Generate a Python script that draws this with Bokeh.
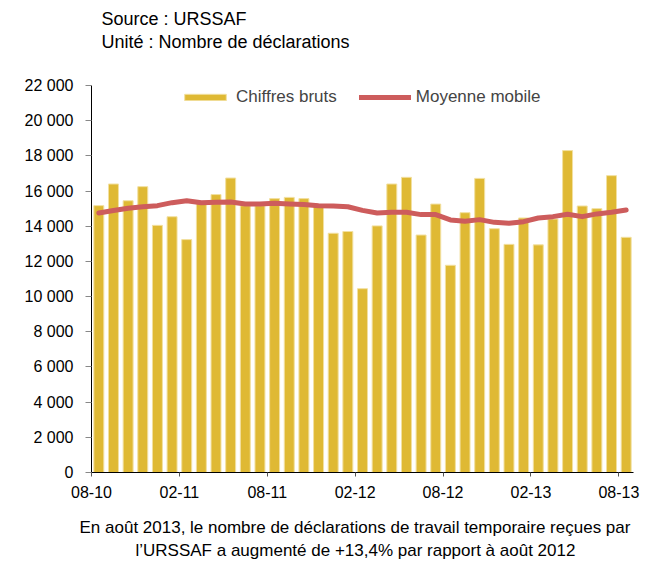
from bokeh.plotting import figure
from bokeh.models import Range1d, FixedTicker, Title, Legend, LegendItem
from bokeh.embed import file_html
from bokeh.resources import INLINE

# Monthly data, 08-10 .. 08-13
months = ["08-10", "09-10", "10-10", "11-10", "12-10", "01-11", "02-11", "03-11", "04-11",
          "05-11", "06-11", "07-11", "08-11", "09-11", "10-11", "11-11", "12-11", "01-12",
          "02-12", "03-12", "04-12", "05-12", "06-12", "07-12", "08-12", "09-12", "10-12",
          "11-12", "12-12", "01-13", "02-13", "03-13", "04-13", "05-13", "06-13", "07-13",
          "08-13"]
chiffres_bruts = [15170, 16400, 15450, 16250, 14050, 14540, 13240, 15360, 15800,
                  16740, 15170, 15170, 15570, 15640, 15570, 15170, 13600, 13700,
                  10450, 14020, 16400, 16780, 13500, 15260, 11780, 14770, 16720,
                  13860, 12970, 14470, 12940, 14410, 18300, 15150, 15000, 16875,
                  13370]
moyenne_mobile = [14750, 14890, 15020, 15110, 15170, 15340, 15450, 15340, 15360,
                  15380, 15260, 15260, 15300, 15260, 15230, 15170, 15150, 15110,
                  14900, 14750, 14790, 14790, 14660, 14660, 14360, 14280, 14375,
                  14220, 14170, 14260, 14470, 14545, 14680, 14545, 14700, 14790,
                  14920]
y_ticks = [0, 2000, 4000, 6000, 8000, 10000, 12000, 14000, 16000, 18000, 20000, 22000]
y_tick_labels = ["0", "2 000", "4 000", "6 000", "8 000", "10 000", "12 000", "14 000",
                 "16 000", "18 000", "20 000", "22 000"]
x_tick_labels = ["08-10", "02-11", "08-11", "02-12", "08-12", "02-13", "08-13"]
header_lines = ["Source : URSSAF", "Unité : Nombre de déclarations"]
caption_lines = ["En août 2013, le nombre de déclarations de travail temporaire reçues par",
                 "l’URSSAF a augmenté de +13,4% par rapport à août 2012"]

FONT = "Liberation Sans"

centers = [i + 0.5 for i in range(len(months))]
x_tick_pos = [months.index(m) for m in x_tick_labels]

p = figure(frame_width=542, frame_height=387, output_backend="svg", toolbar_location=None,
           x_range=Range1d(0, len(months)), y_range=Range1d(0, 22000),
           min_border_left=91, min_border_right=8, min_border_top=0, min_border_bottom=0)
p.outline_line_color = None
p.xgrid.visible = False
p.ygrid.visible = False
p.background_fill_color = "white"

bars = p.vbar(x=centers, top=chiffres_bruts, width=0.68, fill_color="#DFB934",
              line_color="#F2E0A0", line_width=1)
line = p.line(x=centers, y=moyenne_mobile, line_color="#CD5C5C", line_width=5,
              line_cap="round", line_join="round")

# Axes
p.yaxis.ticker = FixedTicker(ticks=y_ticks)
p.yaxis.major_label_overrides = {t: l for t, l in zip(y_ticks, y_tick_labels)}
p.yaxis.major_tick_out = 6
p.yaxis.major_tick_in = 0
p.yaxis.minor_tick_line_color = None
p.yaxis.major_tick_line_color = "#888888"
p.yaxis.axis_line_color = "black"
p.yaxis.major_label_text_font = FONT
p.yaxis.major_label_text_font_size = "16px"
p.yaxis.major_label_text_color = "black"
p.yaxis.major_label_standoff = 12

p.xaxis.ticker = FixedTicker(ticks=x_tick_pos)
p.xaxis.major_label_overrides = {t: l for t, l in zip(x_tick_pos, x_tick_labels)}
p.xaxis.major_tick_out = 4
p.xaxis.major_tick_in = 0
p.xaxis.minor_tick_line_color = None
p.xaxis.major_tick_line_color = "#555555"
p.xaxis.axis_line_color = "black"
p.xaxis.major_label_text_font = FONT
p.xaxis.major_label_text_font_size = "16px"
p.xaxis.major_label_text_color = "black"
p.xaxis.major_label_standoff = 9

legend = Legend(items=[LegendItem(label="Chiffres bruts", renderers=[bars]),
                       LegendItem(label="Moyenne mobile", renderers=[line])],
                orientation="horizontal", location=(88, 365),
                glyph_width=52, glyph_height=8, label_height=20,
                label_standoff=5, spacing=22, padding=0, margin=0,
                label_text_font=FONT, label_text_font_size="17px",
                background_fill_alpha=0, border_line_color=None)
p.add_layout(legend, "center")


def spacer(gap):
    return Title(text=" ", text_font_size="1px", standoff=gap)


def line_title(txt, size, align, offset, standoff):
    return Title(text=txt, align=align, offset=offset, text_font=FONT,
                 text_font_size=size, text_font_style="normal", text_line_height=1.1,
                 text_color="black", standoff=standoff)


# Header: panels listed from the frame outward
p.add_layout(spacer(30), "above")
p.add_layout(line_title(header_lines[1], "18px", "left", 10, 2), "above")
p.add_layout(line_title(header_lines[0], "18px", "left", 10, 0), "above")
p.add_layout(spacer(3), "above")

# Caption: panels listed from the x axis outward
p.add_layout(spacer(12), "below")
p.add_layout(line_title(caption_lines[0], "17px", "left", -12, 0), "below")
p.add_layout(line_title(caption_lines[1], "17px", "left", 44, 4), "below")

open("out.html", "w").write(file_html(p, INLINE))
